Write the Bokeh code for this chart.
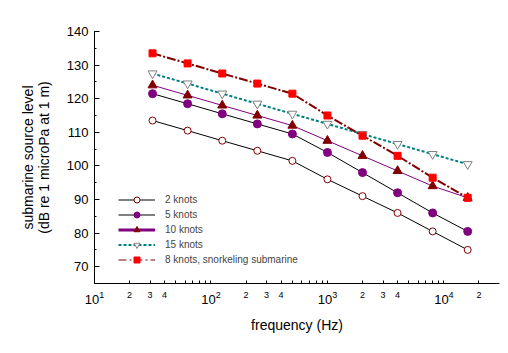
import math
from bokeh.plotting import figure
from bokeh.models import (ColumnDataSource, FixedTicker, SingleIntervalTicker, Legend,
                          LegendItem, Range1d, LogAxis, LinearAxis, CustomJSTickFormatter,
                          LogTickFormatter)
from bokeh.embed import file_html
from bokeh.resources import INLINE

# ---- data ----
freq = [31.5, 63, 125, 250, 500, 1000, 2000, 4000, 8000, 16000]
knots2 = [113.5, 110.5, 107.5, 104.5, 101.5, 96, 91, 86, 80.5, 75]
knots5 = [121.5, 118.5, 115.5, 112.5, 109.5, 104, 98, 92, 86, 80.5]
knots10 = [124, 121, 118, 115, 112, 107.5, 103, 98.5, 94, 90.5]
knots15 = [127.5, 124.5, 121.5, 118.5, 115.5, 112.5, 109.5, 106.5, 103.5, 100.5]
snorkel8 = [133.5, 130.5, 127.5, 124.5, 121.5, 115, 109, 103, 96.5, 90.5]

decade_ticks = [10, 100, 1000, 10000]
labelled_minor = [20, 30, 40, 200, 300, 400, 2000, 3000, 4000, 20000]
unlabelled_minor = [50, 60, 70, 80, 90, 500, 600, 700, 800, 900,
                    5000, 6000, 7000, 8000, 9000]

x_title = "frequency (Hz)"
y_title_1 = "submarine source level"
y_title_2 = "(dB re 1 microPa at 1 m)"

FONT = "Liberation Sans"

p = figure(width=508, height=353, x_axis_type="log",
           x_range=Range1d(10, 30000), y_range=Range1d(65, 140),
           output_backend="svg", toolbar_location=None,
           min_border_left=94, min_border_right=9, min_border_top=31, min_border_bottom=70)
p.outline_line_color = None
p.xgrid.visible = False
p.ygrid.visible = False

# inner x axis: axis line, all ticks, small "2 3 4" labels
xa = p.xaxis[0]
xa.ticker = FixedTicker(ticks=sorted(decade_ticks + labelled_minor), minor_ticks=unlabelled_minor)
xa.formatter = CustomJSTickFormatter(code="""
    const m = Math.round(tick / Math.pow(10, Math.floor(Math.log10(tick) + 1e-9)));
    return m == 1 ? "" : String(m);
""")
xa.major_label_text_font_size = "9px"
xa.major_label_standoff = 8
xa.major_tick_in = 3
xa.minor_tick_in = 3

# outer x axis: decade labels 10^n pulled up onto the same line, plus the title
xd = LogAxis(ticker=FixedTicker(ticks=decade_ticks), formatter=LogTickFormatter(),
             axis_line_color=None, major_tick_line_color=None, minor_tick_line_color=None,
             major_label_text_font_size="13px", major_label_standoff=-10,
             axis_label=x_title, axis_label_standoff=10)
p.add_layout(xd, "below")

# y axis
ya = p.yaxis[0]
ya.ticker = SingleIntervalTicker(interval=10, num_minor_ticks=2)
ya.major_label_text_font_size = "13px"
ya.major_label_standoff = 6
ya.major_tick_in = 5
ya.minor_tick_in = 2
ya.axis_label = y_title_2
ya.axis_label_standoff = 12

# outer y axis carrying the first title line
yo = LinearAxis(ticker=FixedTicker(ticks=[]), axis_line_color=None,
                major_tick_line_color=None, minor_tick_line_color=None,
                axis_label=y_title_1, axis_label_standoff=-3)
p.add_layout(yo, "left")

for ax in (xa, xd, ya, yo):
    ax.major_tick_out = 0
    ax.minor_tick_out = 0
    ax.major_label_text_font = FONT
    ax.major_label_text_color = "black"
    ax.axis_label_text_font = FONT
    ax.axis_label_text_font_size = "14px"
    ax.axis_label_text_font_style = "normal"
    ax.axis_label_text_color = "black"
for ax in (xa, ya):
    ax.axis_line_color = "black"
    ax.major_tick_line_color = "black"
    ax.minor_tick_line_color = "black"

src = ColumnDataSource(dict(f=freq, k2=knots2, k5=knots5, k10=knots10, k15=knots15, s8=snorkel8))

l2 = p.line("f", "k2", source=src, line_color="black", line_width=1)
m2 = p.scatter("f", "k2", source=src, marker="circle", size=7, line_color="#800000",
               fill_color="white", line_width=1)
l5 = p.line("f", "k5", source=src, line_color="black", line_width=1)
m5 = p.scatter("f", "k5", source=src, marker="circle", size=8, line_color="#800080",
               fill_color="#800080")
l10 = p.line("f", "k10", source=src, line_color="#800080", line_width=1)
m10 = p.scatter("f", "k10", source=src, marker="triangle", size=9, line_color="#800000",
                fill_color="#800000")
l15 = p.line("f", "k15", source=src, line_color="#008080", line_width=2, line_dash="3 2")
m15 = p.scatter("f", "k15", source=src, marker="inverted_triangle", size=9, line_color="#808080",
                fill_color="white", line_width=1)
l8 = p.line("f", "s8", source=src, line_color="#800000", line_width=2, line_dash="9 2 2 2")
m8 = p.scatter("f", "s8", source=src, marker="square", size=7, line_color="#FF0000",
               fill_color="#FF0000")

# legend-only line styles (data kept outside the visible ranges)
off = ColumnDataSource(dict(x=[1, 2], y=[0, 0]))
l10_leg = p.line("x", "y", source=off, line_color="#800080", line_width=3)
l8_leg = p.line("x", "y", source=off, line_color="#800000", line_width=1, line_dash="8 3 2 3")

legend = Legend(items=[
    LegendItem(label="2 knots", renderers=[l2, m2]),
    LegendItem(label="5 knots", renderers=[l5, m5]),
    LegendItem(label="10 knots", renderers=[l10_leg, m10]),
    LegendItem(label="15 knots", renderers=[l15, m15]),
    LegendItem(label="8 knots, snorkeling submarine", renderers=[l8_leg, m8]),
], location=(24, 16), glyph_width=37, glyph_height=15, label_height=15, spacing=0,
   padding=0, margin=0, label_standoff=10, label_text_font=FONT, label_text_font_size="10px",
   border_line_color=None, background_fill_alpha=0)
p.add_layout(legend)

open("out.html", "w").write(file_html(p, INLINE))
